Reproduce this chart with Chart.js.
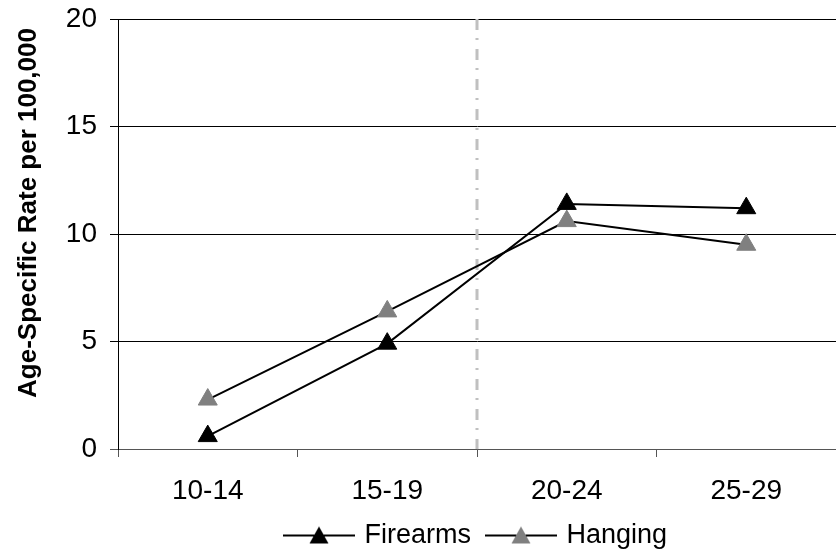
<!DOCTYPE html>
<html>
<head>
<meta charset="utf-8">
<script src="https://cdn.jsdelivr.net/npm/chart.js@4.4.1/dist/chart.umd.min.js"></script>
<style>
  html, body { margin: 0; padding: 0; background: #fff; }
  #wrap { width: 836px; height: 550px; }
</style>
</head>
<body>
<div id="wrap"><canvas id="chart"></canvas></div>
<script>
// age groups and rates per 100,000
const ageGroups = ['10-14', '15-19', '20-24', '25-29'];
const firearms = [0.6, 4.9, 11.4, 11.2];
const hanging = [2.3, 6.4, 10.6, 9.5];
const yTicks = [0, 5, 10, 15, 20];

const FONT = "'Liberation Sans', Arial, sans-serif";
Chart.defaults.font.family = FONT;
Chart.defaults.color = '#000';

// legend swatch: line with a triangle marker in the middle
function legendSwatch(fill) {
    const c = document.createElement('canvas');
    c.width = 72; c.height = 22;
    const g = c.getContext('2d');
    g.strokeStyle = '#000';
    g.lineWidth = 2;
    g.beginPath(); g.moveTo(0, 11); g.lineTo(72, 11); g.stroke();
    g.fillStyle = fill;
    g.beginPath(); g.moveTo(36, 2); g.lineTo(45.5, 19); g.lineTo(26.5, 19); g.closePath(); g.fill();
    return c;
}

// dash-dot separator between 15-19 and 20-24, plus the rotated y title
const extras = {
    id: 'extras',
    beforeDatasetsDraw(chart) {
        const x = chart.scales.x;
        const area = chart.chartArea;
        const px = (x.getPixelForValue(1) + x.getPixelForValue(2)) / 2;
        const ctx = chart.ctx;
        ctx.save();
        ctx.strokeStyle = '#c0c0c0';
        ctx.lineWidth = 3;
        ctx.setLineDash([11, 8, 2, 9]);
        ctx.beginPath();
        ctx.moveTo(px, area.top);
        ctx.lineTo(px, area.bottom);
        ctx.stroke();
        ctx.restore();

        ctx.save();
        ctx.translate(29, 213);
        ctx.rotate(-Math.PI / 2);
        ctx.font = "bold 26px " + FONT;
        ctx.fillStyle = '#000';
        ctx.textAlign = 'center';
        ctx.textBaseline = 'middle';
        ctx.fillText('Age-Specific Rate per 100,000', 0, 0);
        ctx.restore();
    }
};

new Chart(document.getElementById('chart'), {
    type: 'line',
    data: {
        labels: ageGroups,
        datasets: [{
            label: 'Firearms',
            data: firearms,
            borderColor: '#000',
            borderWidth: 2,
            pointStyle: 'triangle',
            pointRadius: 11,
            pointBackgroundColor: '#000',
            pointBorderColor: '#000',
            pointBorderWidth: 1,
            tension: 0
        }, {
            label: 'Hanging',
            data: hanging,
            borderColor: '#000',
            borderWidth: 2,
            pointStyle: 'triangle',
            pointRadius: 11,
            pointBackgroundColor: '#808080',
            pointBorderColor: '#808080',
            pointBorderWidth: 1,
            tension: 0
        }]
    },
    options: {
        responsive: true,
        maintainAspectRatio: false,
        animation: false,
        // the plot runs a little past the right edge, like the original
        layout: { autoPadding: false, padding: { top: 19, right: -3, bottom: -9, left: 0 } },
        plugins: {
            tooltip: { enabled: false },
            legend: {
                position: 'bottom',
                fullSize: false,
                labels: {
                    usePointStyle: true,
                    pointStyleWidth: 64,
                    padding: 18,
                    color: '#000',
                    font: { size: 27, family: FONT },
                    generateLabels: (chart) => chart.data.datasets.map((ds, i) => ({
                        text: ds.label,
                        pointStyle: legendSwatch(ds.pointBackgroundColor),
                        datasetIndex: i,
                        fontColor: '#000',
                        lineWidth: 0,
                        strokeStyle: 'transparent',
                        fillStyle: 'transparent'
                    }))
                }
            }
        },
        scales: {
            x: {
                offset: true,
                grid: {
                    offset: true,
                    drawOnChartArea: false,
                    color: '#555',
                    tickLength: 8
                },
                border: { color: '#555', width: 1 },
                ticks: { padding: 17, font: { size: 28 }, color: '#000' },
                afterFit: (s) => {
                    s.height = 55;
                    s.paddingLeft = 0;
                    s.paddingRight = 0;
                }
            },
            y: {
                min: 0,
                max: 20,
                afterBuildTicks: (s) => { s.ticks = yTicks.map(v => ({ value: v })); },
                grid: {
                    color: (c) => c.tick && c.tick.value === 0 ? '#555' : '#000',
                    lineWidth: 1,
                    tickLength: 8
                },
                border: { color: '#000', width: 1 },
                ticks: { padding: 13, font: { size: 28 }, color: '#000' },
                afterFit: (s) => {
                    s.width = 118;
                    s.paddingTop = 0;
                    s.paddingBottom = 0;
                }
            }
        }
    },
    plugins: [extras]
});
</script>
</body>
</html>
